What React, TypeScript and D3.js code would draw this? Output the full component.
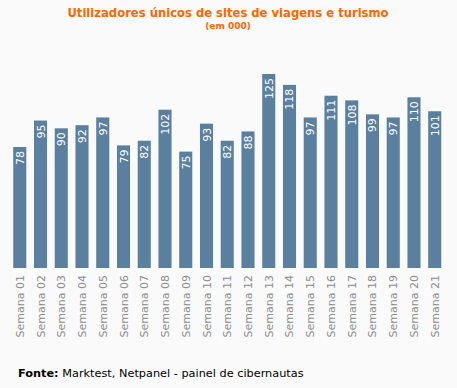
import { useMemo } from "react";
import * as d3 from "d3";

const weeks = [
  "Semana 01", "Semana 02", "Semana 03", "Semana 04", "Semana 05", "Semana 06", "Semana 07",
  "Semana 08", "Semana 09", "Semana 10", "Semana 11", "Semana 12", "Semana 13", "Semana 14",
  "Semana 15", "Semana 16", "Semana 17", "Semana 18", "Semana 19", "Semana 20", "Semana 21",
];
const users = [78, 95, 90, 92, 97, 79, 82, 102, 75, 93, 82, 88, 125, 118, 97, 111, 108, 99, 97, 110, 101];

const W = 457;
const H = 388;
const FONT = "DejaVu Sans, Verdana, sans-serif";

export default function App() {
  const x = useMemo(
    () => d3.scaleBand<string>().domain(weeks).range([9.5, 445]).paddingInner(0.37).paddingOuter(0.18),
    []
  );
  // zero sits at y=268, 125 at ~74
  const y = useMemo(() => d3.scaleLinear().domain([0, 125]).range([268, 74]), []);

  return (
    <div style={{ position: "fixed", left: 0, top: 0 }}>
      <svg width={W} height={H} style={{ display: "block", background: "#fafafa" }}>
        <rect width={W} height={H} fill="#fafafa" />
        <text x={228} y={17} textAnchor="middle" fontFamily={FONT} fontWeight="bold" fontSize={11.6} fill="#ff6600">
          Utilizadores únicos de sites de viagens e turismo
        </text>
        <text x={228} y={29} textAnchor="middle" fontFamily={FONT} fontWeight="bold" fontSize={9} fill="#ff6600">
          (em 000)
        </text>
        {weeks.map((w, i) => {
          const bx = x(w)!;
          const cx = bx + x.bandwidth() / 2;
          const top = y(users[i]);
          return (
            <g key={w}>
              <rect x={bx} y={top} width={x.bandwidth()} height={y(0) - top} fill="#5b7f9f" />
              <text
                transform={`translate(${cx + 4},${top + 4}) rotate(-90)`}
                textAnchor="end"
                fontFamily={FONT}
                fontSize={11}
                fill="#ffffff"
              >
                {users[i]}
              </text>
              <text
                transform={`translate(${cx + 4},${275}) rotate(-90)`}
                textAnchor="end"
                fontFamily={FONT}
                fontSize={11}
                fill="#8c8c8c"
              >
                {w}
              </text>
            </g>
          );
        })}
        <text x={18} y={377} fontFamily={FONT} fontSize={11.3} fill="#000">
          <tspan fontWeight="bold">Fonte:</tspan> Marktest, Netpanel - painel de cibernautas
        </text>
      </svg>
    </div>
  );
}
